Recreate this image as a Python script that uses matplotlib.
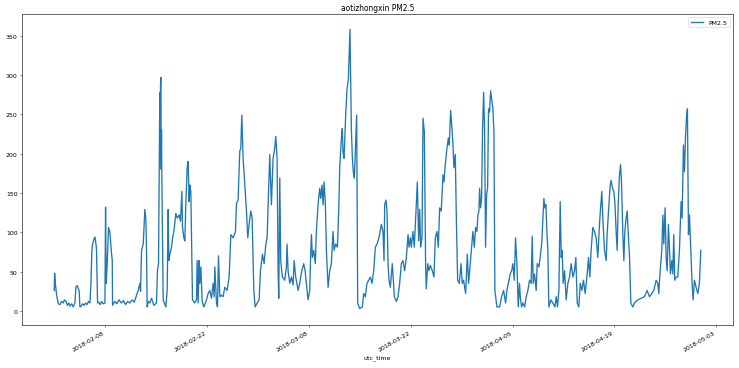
import pandas as pd
import matplotlib
matplotlib.use("Agg")
import matplotlib.pyplot as plt
import matplotlib.dates as mdates

# hourly PM2.5 at aotizhongxin
# (days since 2018-02-01 00:00, value)
start = pd.Timestamp("2018-02-01 00:00")
days = [
    0.0, 0.05, 0.14, 0.32, 0.55, 0.8, 1.0, 1.23, 1.4, 1.6, 1.8, 2.0, 2.15, 2.4, 2.6, 2.84,
    2.98, 3.16, 3.43, 3.52, 3.7, 3.9, 4.1, 4.3, 4.5, 4.7, 4.9, 5.04, 5.17, 5.26, 5.45, 5.59,
    5.73, 5.81, 5.95, 6.1, 6.3, 6.5, 6.7, 6.96, 7.05, 7.14, 7.28, 7.46, 7.65, 7.83, 7.97, 8.01,
    8.3, 8.6, 8.9, 9.2, 9.5, 9.8, 10.1, 10.4, 10.7, 11.0, 11.31, 11.54, 11.77, 11.86, 12.0,
    12.23, 12.45, 12.59, 12.68, 12.77, 12.91, 13.14, 13.37, 13.69, 14.05, 14.19, 14.33,
    14.51, 14.56, 14.6, 14.65, 14.7, 14.74, 14.78, 14.97, 15.34, 15.52, 15.66, 15.75, 15.89,
    16.12, 16.26, 16.44, 16.71, 16.9, 17.17, 17.35, 17.54, 17.63, 17.81, 17.95, 18.08, 18.27,
    18.4, 18.54, 18.63, 18.77, 18.86, 19.0, 19.32, 19.55, 19.64, 19.78, 19.92, 20.01, 20.15,
    20.33, 20.56, 20.92, 21.15, 21.38, 21.61, 21.84, 21.98, 22.07, 22.3, 22.44, 22.57, 22.76,
    22.99, 23.21, 23.44, 23.76, 24.04, 24.27, 24.59, 24.91, 25.05, 25.27, 25.5, 25.64, 25.78,
    25.96, 26.1, 26.23, 26.42, 26.6, 26.78, 27.01, 27.2, 27.43, 27.61, 27.89, 28.16, 28.34,
    28.62, 28.85, 29.08, 29.26, 29.49, 29.62, 29.85, 30.08, 30.31, 30.45, 30.63, 30.77, 30.86,
    31.0, 31.13, 31.36, 31.68, 31.91, 32.0, 32.14, 32.37, 32.6, 32.83, 32.97, 33.19, 33.52,
    33.74, 34.02, 34.29, 34.48, 34.66, 34.89, 35.12, 35.21, 35.35, 35.48, 35.67, 35.89, 36.03,
    36.26, 36.49, 36.63, 36.81, 36.95, 37.09, 37.27, 37.41, 37.64, 37.86, 38.09, 38.32, 38.46,
    38.69, 38.92, 39.1, 39.24, 39.47, 39.6, 39.69, 39.83, 40.06, 40.24, 40.43, 40.52, 40.65,
    40.75, 40.84, 40.98, 41.11, 41.25, 41.39, 41.57, 41.71, 41.98, 42.35, 42.53, 42.76, 42.99,
    43.22, 43.45, 43.68, 43.91, 44.14, 44.37, 44.64, 44.96, 45.19, 45.33, 45.42, 45.6, 45.74,
    45.88, 46.02, 46.2, 46.47, 46.75, 47.03, 47.25, 47.48, 47.71, 47.94, 48.17, 48.4, 48.63,
    48.77, 48.95, 49.08, 49.31, 49.49, 49.68, 49.91, 50.09, 50.23, 50.37, 50.55, 50.69, 50.87,
    51.05, 51.14, 51.33, 51.51, 51.69, 51.97, 52.2, 52.38, 52.61, 52.79, 52.98, 53.2, 53.43,
    53.57, 53.75, 53.98, 54.17, 54.3, 54.49, 54.67, 54.81, 54.94, 55.13, 55.27, 55.45, 55.68,
    55.91, 56.09, 56.27, 56.55, 56.78, 56.96, 57.19, 57.37, 57.55, 57.74, 57.92, 58.1, 58.24,
    58.38, 58.47, 58.61, 58.74, 58.88, 59.02, 59.15, 59.29, 59.43, 59.57, 59.7, 59.84, 59.98,
    60.12, 60.3, 60.44, 60.57, 60.85, 61.22, 61.49, 61.77, 62.04, 62.22, 62.5, 62.68, 62.87,
    63.05, 63.23, 63.41, 63.6, 63.78, 63.96, 64.06, 64.24, 64.42, 64.65, 64.88, 65.11, 65.33,
    65.56, 65.7, 65.84, 66.02, 66.25, 66.39, 66.62, 66.85, 67.03, 67.17, 67.31, 67.44, 67.58,
    67.72, 67.85, 67.99, 68.27, 68.54, 68.82, 69.0, 69.18, 69.37, 69.55, 69.69, 69.82, 69.96,
    70.15, 70.37, 70.6, 70.83, 71.06, 71.29, 71.52, 71.7, 71.89, 72.11, 72.3, 72.53, 72.75,
    72.98, 73.12, 73.3, 73.44, 73.62, 73.8, 74.03, 74.26, 74.49, 74.72, 74.95, 75.13, 75.27,
    75.41, 75.64, 75.87, 76.0, 76.19, 76.42, 76.55, 76.74, 76.92, 77.06, 77.24, 77.38, 77.52,
    77.7, 77.84, 77.98, 78.16, 78.3, 78.43, 78.62, 78.76, 78.89, 79.08, 79.26, 79.53, 79.76,
    80.22, 80.68, 81.13, 81.5, 81.82, 82.14, 82.42, 82.74, 82.97, 83.1, 83.29, 83.52, 83.66,
    83.79, 83.97, 84.11, 84.25, 84.43, 84.57, 84.71, 84.89, 85.03, 85.16, 85.3, 85.48, 85.71,
    85.94, 86.17, 86.31, 86.49, 86.63, 86.77, 86.9, 87.04, 87.18, 87.32, 87.5, 87.68, 87.82,
    88.0, 88.23, 88.46, 88.69, 88.87,
]
pm25 = [
    26, 48, 35, 20, 9, 8, 12, 10, 14, 12, 7, 10, 6, 9, 5, 10,
    31, 32, 25, 5, 6, 9, 7, 10, 8, 12, 10, 35, 77, 85, 91, 94,
    85, 77, 10, 11, 8, 12, 9, 10, 132, 35, 60, 106, 100, 77, 64, 7,
    12, 9, 14, 10, 13, 8, 12, 10, 14, 11, 20, 26, 35, 25, 77,
    85, 129, 117, 77, 5, 12, 10, 16, 7, 10, 52, 60,
    278, 190, 285, 297, 180, 230, 177, 14, 5, 26, 129, 64, 72,
    81, 93, 101, 124, 118, 122, 114, 152, 106, 93, 89, 135, 182,
    190, 139, 160, 152, 97, 14, 10, 14, 64, 10, 64, 35, 56,
    12, 5, 14, 22, 26, 16, 35, 18, 56, 10, 5, 70, 18,
    20, 18, 30, 26, 43, 97, 93, 101, 137, 141, 203, 207, 249,
    194, 173, 152, 127, 93, 110, 127, 118, 26, 5, 10, 14, 51,
    72, 60, 85, 93, 160, 199, 135, 194, 207, 222, 194, 51, 16,
    169, 64, 43, 39, 56, 85, 51, 35, 43, 33, 64, 43, 26,
    35, 51, 60, 51, 35, 14, 26, 60, 97, 68, 77, 60, 101,
    135, 156, 143, 160, 135, 164, 135, 77, 30, 51, 60, 101, 77,
    85, 81, 127, 182, 220, 232, 203, 194, 249, 282, 295, 320, 358,
    295, 232, 194, 177, 169, 203, 249, 10, 3, 5, 22, 18, 35,
    39, 43, 35, 51, 81, 85, 93, 110, 101, 64, 135, 141, 127,
    60, 39, 30, 60, 18, 12, 18, 35, 60, 64, 51, 68, 97,
    81, 93, 81, 101, 81, 118, 164, 89, 129, 81, 93, 245, 228,
    56, 28, 60, 51, 58, 51, 43, 93, 101, 81, 131, 127, 173,
    164, 186, 207, 220, 211, 255, 232, 211, 182, 199, 118, 39, 35,
    60, 35, 39, 22, 72, 35, 60, 81, 101, 81, 106, 101, 122,
    127, 156, 131, 143, 232, 278, 232, 81, 148, 156, 257, 253, 280,
    270, 257, 228, 26, 5, 5, 18, 26, 10, 26, 39, 47, 51,
    60, 39, 93, 60, 5, 35, 18, 5, 10, 5, 18, 26, 39,
    35, 95, 35, 47, 26, 60, 56, 72, 89, 118, 143, 131, 135,
    101, 77, 5, 14, 10, 5, 18, 5, 26, 139, 68, 77, 35,
    51, 14, 35, 43, 60, 43, 51, 68, 10, 5, 35, 26, 39,
    22, 35, 51, 68, 43, 77, 106, 101, 93, 68, 110, 135, 152,
    118, 77, 64, 97, 127, 160, 166, 156, 152, 139, 101, 77, 135,
    173, 186, 164, 97, 64, 101, 118, 127, 101, 68, 10, 5, 10,
    14, 16, 18, 26, 18, 22, 26, 39, 35, 22, 51, 77, 122,
    85, 131, 68, 51, 110, 77, 47, 64, 47, 97, 39, 43, 43,
    77, 139, 118, 211, 177, 220, 245, 257, 97, 122, 77, 35, 14,
    39, 30, 22, 35, 77,
]
tick_dates = ["2018-02-08", "2018-02-22", "2018-03-08", "2018-03-22",
              "2018-04-05", "2018-04-19", "2018-05-03"]

utc_time = start + pd.to_timedelta(days, unit="D")
df = pd.DataFrame({"utc_time": utc_time, "PM2.5": pm25})

dpi = 45
fig = plt.figure(figsize=(740 / dpi, 369 / dpi), dpi=dpi)
ax = fig.add_axes([0.0297, 0.1165, 0.9608, 0.8436])

ax.plot(df["utc_time"], df["PM2.5"], color="#1f77b4", lw=2.1, label="PM2.5")
ax.set_xlim(start - pd.Timedelta(days=4.44), start + pd.Timedelta(days=93.3))
ax.set_ylim(-18, 378)
ax.set_yticks(range(0, 351, 50))
ax.set_xticks(pd.to_datetime(tick_dates))
ax.xaxis.set_major_formatter(mdates.DateFormatter("%Y-%m-%d"))
for lab in ax.get_xticklabels():
    lab.set_rotation(30)
    lab.set_ha("right")
for sp in ax.spines.values():
    sp.set_color("#555555")
    sp.set_linewidth(1.4)

ax.set_title("aotizhongxin PM2.5")
ax.set_xlabel("utc_time")
ax.legend(loc="upper right")

fig.savefig("out.png", dpi=dpi)
